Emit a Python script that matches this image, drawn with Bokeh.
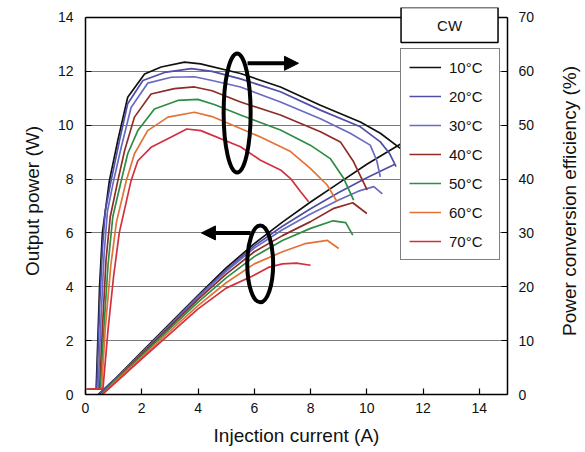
from bokeh.plotting import figure
from bokeh.layouts import row
from bokeh.models import (Range1d, LinearAxis, Legend, LegendItem, Label, Arrow,
                          NormalHead, FixedTicker, Span, Title)
from bokeh.embed import file_html
from bokeh.resources import INLINE

# ---------------- data ----------------
temperatures = ["10°C", "20°C", "30°C", "40°C", "50°C", "60°C", "70°C"]
colors = ["#111111", "#4f4fa8", "#6a6ac4", "#8e2c26", "#2f8c45", "#e27236", "#d32f3f"]

x_ticks = [0, 2, 4, 6, 8, 10, 12, 14]
power_ticks = [0, 2, 4, 6, 8, 10, 12, 14]
pce_ticks = [0, 10, 20, 30, 40, 50, 60, 70]

# Power conversion efficiency (%) vs injection current (A)
pce_current_10 = [0.05, 0.38, 0.45, 0.5, 0.6, 0.85, 1.15, 1.5, 2.1, 2.69, 3.52, 4.09, 5.51, 6.93, 8.35, 9.77, 10.48, 11.19]
pce_10 = [1.0, 1.0, 12, 20, 30, 39.7, 47.2, 55.2, 59.5, 60.8, 61.7, 61.4, 59.6, 57.1, 53.7, 50.6, 48.5, 45.7]
pce_current_20 = [0.05, 0.4, 0.5, 0.6, 0.7, 0.91, 1.21, 1.5, 2.04, 2.81, 3.76, 4.5, 5.51, 6.93, 8.35, 9.77, 10.48, 10.8, 11.04]
pce_20 = [1.0, 1.0, 16, 27, 34, 39.7, 47.2, 54.0, 58.3, 59.8, 60.5, 60.0, 58.6, 56.2, 52.8, 49.7, 46.9, 44.8, 42.3]
pce_current_30 = [0.05, 0.45, 0.55, 0.66, 0.78, 1.0, 1.27, 1.62, 2.21, 3.05, 3.87, 4.5, 5.51, 6.93, 8.35, 9.41, 10.12, 10.35, 10.48]
pce_30 = [1.0, 1.0, 14, 26, 34, 39.7, 45.9, 53.3, 57.8, 58.9, 59.0, 58.3, 57.1, 54.3, 51.2, 48.5, 46.3, 43.5, 40.4]
pce_current_40 = [0.05, 0.5, 0.6, 0.73, 0.88, 1.15, 1.39, 1.74, 2.33, 3.16, 3.87, 4.5, 5.51, 6.93, 8.35, 9.06, 9.53, 10.01]
pce_40 = [1.0, 1.0, 12, 25, 33, 39.7, 45.3, 51.5, 55.8, 56.8, 57.1, 56.4, 54.3, 51.9, 48.8, 46.9, 43.2, 38.0]
pce_current_50 = [0.05, 0.53, 0.65, 0.8, 0.97, 1.27, 1.5, 1.86, 2.45, 3.28, 3.99, 4.6, 5.51, 6.93, 7.99, 8.7, 9.18, 9.53]
pce_50 = [1.0, 1.0, 12, 24, 33, 39.7, 44.7, 49.0, 53.0, 54.6, 54.8, 53.8, 51.9, 49.1, 46.3, 43.8, 40.1, 36.1]
pce_current_60 = [0.05, 0.57, 0.7, 0.9, 1.1, 1.45, 1.74, 2.21, 2.93, 3.87, 4.5, 5.51, 6.22, 7.29, 7.99, 8.59, 8.94]
pce_60 = [1.0, 1.0, 12, 24, 32, 39.7, 44.7, 49.0, 51.5, 52.4, 51.6, 49.4, 47.8, 45.1, 42.0, 38.9, 35.8]
pce_current_70 = [0.05, 0.62, 0.8, 1.0, 1.2, 1.62, 1.86, 2.33, 3.05, 3.6, 4.1, 5.51, 6.22, 6.93, 7.29, 7.64, 7.93]
pce_70 = [1.0, 1.0, 12, 22, 30, 39.7, 43.4, 45.9, 47.8, 49.3, 49.0, 46.0, 43.5, 41.7, 40.1, 37.7, 35.8]

# Output power (W) vs injection current (A)
power_current_10 = [0.45, 1, 2, 3, 4, 5, 6, 7, 8, 9, 10, 11.2]
power_10 = [0, 0.53, 1.58, 2.63, 3.68, 4.7, 5.6, 6.4, 7.15, 7.85, 8.55, 9.3]
power_current_20 = [0.47, 1, 2, 3, 4, 5, 6, 7, 8, 9, 10, 10.7, 11.0]
power_20 = [0, 0.52, 1.56, 2.6, 3.65, 4.62, 5.52, 6.25, 6.9, 7.5, 8.05, 8.4, 8.55]
power_current_30 = [0.5, 1, 2, 3, 4, 5, 6, 7, 8, 9, 9.7, 10.25, 10.55]
power_30 = [0, 0.5, 1.53, 2.57, 3.61, 4.57, 5.44, 6.12, 6.7, 7.22, 7.55, 7.72, 7.45]
power_current_40 = [0.52, 1, 2, 3, 4, 5, 6, 7, 8, 8.8, 9.5, 10.0]
power_40 = [0, 0.48, 1.5, 2.52, 3.53, 4.47, 5.3, 5.9, 6.42, 6.9, 7.12, 6.72]
power_current_50 = [0.55, 1, 2, 3, 4, 5, 6, 7, 8, 8.8, 9.25, 9.5]
power_50 = [0, 0.46, 1.45, 2.45, 3.43, 4.33, 5.12, 5.72, 6.17, 6.45, 6.38, 5.92]
power_current_60 = [0.58, 1, 2, 3, 4, 5, 6, 7, 7.8, 8.6, 9.0]
power_60 = [0, 0.42, 1.38, 2.35, 3.3, 4.15, 4.85, 5.3, 5.6, 5.72, 5.42]
power_current_70 = [0.6, 1, 2, 3, 4, 5, 5.9, 6.5, 7.0, 7.5, 8.0]
power_70 = [0, 0.38, 1.32, 2.25, 3.18, 3.95, 4.38, 4.72, 4.85, 4.88, 4.8]

pce_currents = [pce_current_10, pce_current_20, pce_current_30, pce_current_40,
                pce_current_50, pce_current_60, pce_current_70]
pce_values = [pce_10, pce_20, pce_30, pce_40, pce_50, pce_60, pce_70]
power_currents = [power_current_10, power_current_20, power_current_30, power_current_40,
                  power_current_50, power_current_60, power_current_70]
power_values = [power_10, power_20, power_30, power_40, power_50, power_60, power_70]

# annotation placement (data units)
pce_ring = dict(x=5.39, y=10.45, w=0.96, h=4.42)
pce_arrow = dict(x0=5.76, x1=7.57, y=12.3)
power_ring = dict(x=6.21, y=4.85, w=0.92, h=2.85)
power_arrow = dict(x0=5.87, x1=4.12, y=6.0)

FONT = "Liberation Sans"
POWER_MAX = 14
PCE_MAX = 70
HEADROOM = 1.0265  # a little space above the frame top for the "CW" box

p = figure(width=556, height=452, x_range=Range1d(0, 15),
           y_range=Range1d(0, POWER_MAX * HEADROOM),
           output_backend="svg", toolbar_location=None, title=None,
           min_border_left=85, min_border_right=49, min_border_top=7, min_border_bottom=58)
p.extra_y_ranges = {"pce": Range1d(0, PCE_MAX * HEADROOM)}
p.background_fill_color = "white"
p.border_fill_color = "white"
p.outline_line_color = None

right_axis = LinearAxis(y_range_name="pce", ticker=FixedTicker(ticks=pce_ticks), bounds=(0, PCE_MAX))
p.add_layout(right_axis, "right")

p.xaxis.ticker = FixedTicker(ticks=x_ticks)
p.yaxis[0].ticker = FixedTicker(ticks=power_ticks)
p.yaxis[0].bounds = (0, POWER_MAX)
p.xaxis.axis_label = "Injection current (A)"
p.yaxis[0].axis_label = "Output power (W)"

for ax in [p.xaxis[0], p.yaxis[0], right_axis]:
    ax.major_tick_in = 6
    ax.major_tick_out = 0
    ax.minor_tick_line_color = None
    ax.axis_line_color = "black"
    ax.axis_line_width = 1.5
    ax.major_tick_line_color = "black"
    ax.major_tick_line_width = 1.2
    ax.major_label_text_font = FONT
    ax.major_label_text_font_size = "14px"
    ax.major_label_text_color = "#111111"
    ax.axis_label_text_font = FONT
    ax.axis_label_text_font_size = "19px"
    ax.axis_label_text_font_style = "normal"
    ax.axis_label_text_color = "#111111"

p.xaxis[0].major_label_standoff = 8
p.xaxis[0].axis_label_standoff = 9
p.yaxis[0].major_label_standoff = 12
p.yaxis[0].axis_label_standoff = 12
right_axis.major_label_standoff = 11

p.xgrid.grid_line_color = None
p.ygrid.grid_line_color = "#7a7a7a"
p.ygrid.grid_line_width = 1.2

# top border of the plotting box
p.add_layout(Span(location=POWER_MAX, dimension="width", line_color="black", line_width=1.5))

items = []
for name, col, xc, yc, xp, yp in zip(temperatures, colors, pce_currents, pce_values,
                                     power_currents, power_values):
    r1 = p.line(xc, yc, y_range_name="pce", line_color=col, line_width=1.7)
    r2 = p.line(xp, yp, line_color=col, line_width=1.7)
    items.append(LegendItem(label=name, renderers=[r1]))

# ring + arrow annotations
p.ellipse(x=[pce_ring["x"]], y=[pce_ring["y"]], width=pce_ring["w"], height=pce_ring["h"],
          fill_color=None, line_color="black", line_width=4)
p.ellipse(x=[power_ring["x"]], y=[power_ring["y"]], width=power_ring["w"], height=power_ring["h"],
          fill_color=None, line_color="black", line_width=4)
p.add_layout(Arrow(end=NormalHead(size=14, fill_color="black", line_color="black"),
                   x_start=pce_arrow["x0"], x_end=pce_arrow["x1"],
                   y_start=pce_arrow["y"], y_end=pce_arrow["y"], line_width=4, line_color="black"))
p.add_layout(Arrow(end=NormalHead(size=14, fill_color="black", line_color="black"),
                   x_start=power_arrow["x0"], x_end=power_arrow["x1"],
                   y_start=power_arrow["y"], y_end=power_arrow["y"], line_width=4, line_color="black"))

legend = Legend(items=items, location=(315, 134), margin=0, padding=8, spacing=9,
                glyph_width=32, glyph_height=20, label_height=20, label_width=42,
                label_standoff=8, border_line_color="black", border_line_width=1.5,
                background_fill_color="white", background_fill_alpha=1.0,
                label_text_font=FONT, label_text_font_size="15px", label_text_color="#111111")
p.add_layout(legend)

cw = Label(x=12.94, y=13.72, text="CW", text_align="center", text_baseline="middle",
           text_font=FONT, text_font_size="15px", text_color="#111111",
           border_line_color="black", border_line_width=1.5,
           background_fill_color="white", background_fill_alpha=1.0,
           padding=dict(left=36, right=36, top=9, bottom=9))
p.add_layout(cw)

# right-hand axis title, reading bottom-to-top, in a slim companion panel
side = figure(width=29, height=452, output_backend="svg", toolbar_location=None, title=None,
              min_border_left=0, min_border_right=0, min_border_top=7, min_border_bottom=58,
              x_range=Range1d(0, 1), y_range=Range1d(0, 1))
side.xaxis.visible = False
side.yaxis.visible = False
side.grid.visible = False
side.outline_line_color = None
side.background_fill_color = "white"
side.border_fill_color = "white"
side.add_layout(Title(text="Power conversion efficiency (%)", align="center",
                      text_font=FONT, text_font_size="19px", text_font_style="normal",
                      text_color="#111111", standoff=0, offset=0), "left")

layout = row(p, side)
open("out.html", "w").write(file_html(layout, INLINE))
